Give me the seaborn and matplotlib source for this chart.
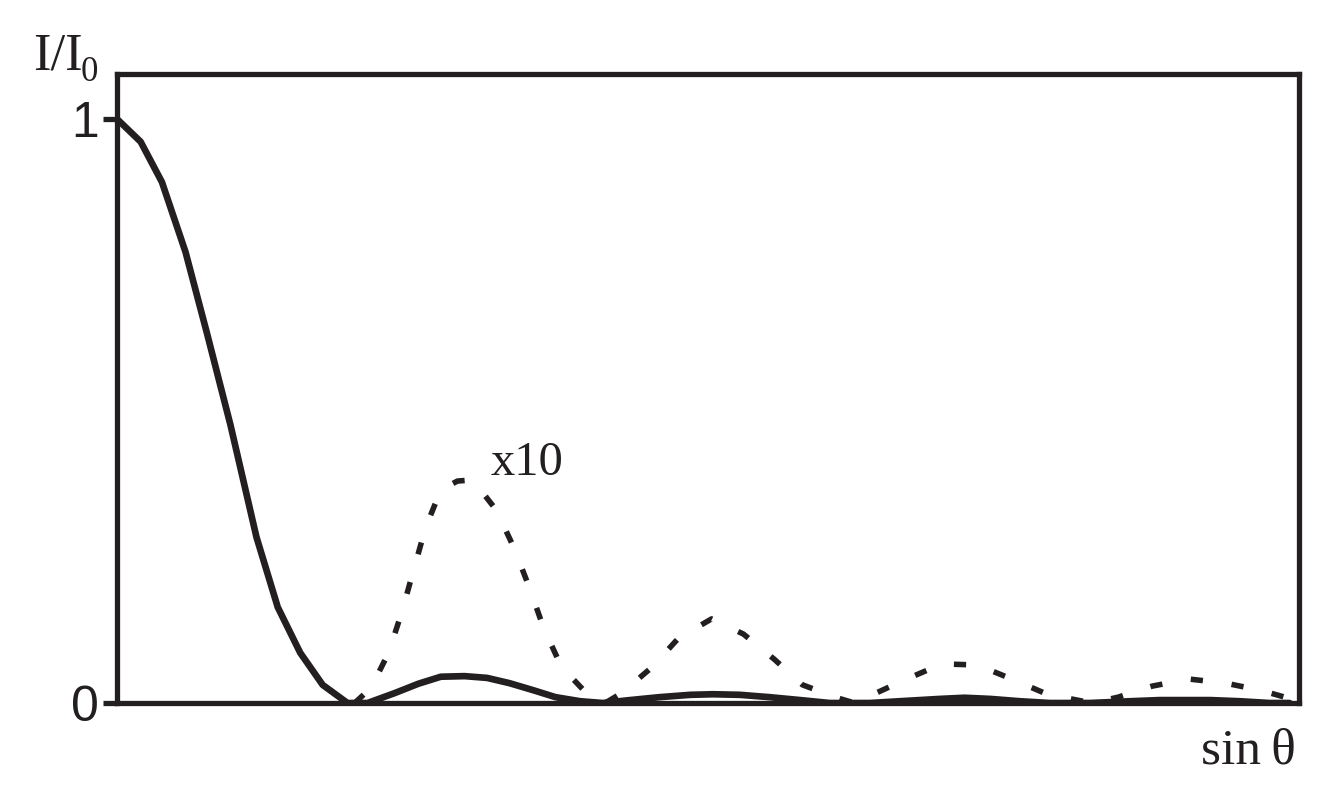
import matplotlib
matplotlib.use("Agg")
import matplotlib.pyplot as plt
import seaborn as sns
import pandas as pd

# solid curve: I/I0 against sin(theta) (x in arbitrary units 0..100)
solid_x = [0.0, 2.0, 3.8, 5.8, 7.6, 9.6, 11.8, 13.6, 15.5, 17.4, 19.5, 21.2,
           23.5, 25.5, 27.4, 29.4, 31.3, 33.2, 35.2, 37.1, 39.2, 41.1, 43.4,
           45.9, 48.5, 50.4, 52.7, 55.2, 57.8, 60.3, 63.7, 66.2, 69.6, 71.7,
           73.9, 76.4, 78.9, 82.3, 85.7, 88.2, 90.4, 92.5, 95.0, 97.5, 99.2]
solid_y = [1.0, 0.961, 0.892, 0.772, 0.634, 0.476, 0.284, 0.164, 0.086, 0.031,
           0.0, 0.0, 0.017, 0.033, 0.045, 0.046, 0.043, 0.034, 0.022, 0.010,
           0.003, 0.0, 0.005, 0.010, 0.014, 0.015, 0.014, 0.010, 0.005, 0.0,
           0.0, 0.003, 0.007, 0.009, 0.007, 0.003, 0.0, 0.0, 0.003, 0.005,
           0.005, 0.005, 0.003, 0.0, 0.0]

# dotted curve: side lobes magnified x10
dotted_x = [20.1, 21.5, 23.0, 24.1, 25.1, 26.1, 27.4, 28.8, 30.1, 32.1, 33.6,
            34.9, 36.1, 37.6, 39.8, 41.3, 42.7, 45.3, 47.5, 50.3, 53.0, 55.6,
            58.0, 60.9, 62.4, 64.0, 66.8, 69.8, 72.8, 75.7, 78.7, 82.5, 84.7,
            87.6, 90.7, 93.8, 96.9, 98.8]
dotted_y = [0.0, 0.026, 0.087, 0.156, 0.228, 0.300, 0.365, 0.380, 0.382, 0.330,
            0.265, 0.197, 0.128, 0.062, 0.015, 0.0, 0.017, 0.062, 0.111, 0.144,
            0.118, 0.075, 0.031, 0.009, 0.0, 0.015, 0.041, 0.067, 0.065, 0.041,
            0.015, 0.0, 0.010, 0.029, 0.041, 0.034, 0.021, 0.010]

y_ticks = [0, 1]
y_tick_labels = ["0", "1"]

solid = pd.DataFrame({"x": solid_x, "y": solid_y})
dotted = pd.DataFrame({"x": dotted_x, "y": dotted_y})

sns.set_style("white")
ink = "#231f20"

fig = plt.figure(figsize=(13.35, 7.97), dpi=100)
ax = fig.add_axes([117 / 1335, 1 - 703 / 797, (1299 - 117) / 1335, (703 - 74) / 797])

sns.lineplot(data=solid, x="x", y="y", ax=ax, color=ink, lw=4.8,
             sort=False, estimator=None)
sns.lineplot(data=dotted, x="x", y="y", ax=ax, color=ink, lw=4.0,
             sort=False, estimator=None, dashes=False)
ax.lines[-1].set_dashes((2.2, 5.2))

ax.set_xlim(0, 100)
ax.set_ylim(0, 1.077)
ax.set_xlabel("")
ax.set_ylabel("")
ax.set_xticks([])
ax.set_yticks(y_ticks)
ax.set_yticklabels(y_tick_labels, fontsize=36, family="Liberation Sans", color=ink)
ax.tick_params(axis="y", direction="out", length=10, width=3.8, color=ink, pad=3, left=True)

for sp in ax.spines.values():
    sp.set_visible(True)
    sp.set_linewidth(3.8)
    sp.set_color(ink)

serif = "Liberation Serif"
fig.text(33 / 1335, 1 - 70 / 797, "I/I", fontsize=38, family=serif, color=ink, va="baseline")
fig.text(81 / 1335, 1 - 81 / 797, "0", fontsize=25, family=serif, color=ink, va="baseline")
ax.text(31.6, (703 - 475) / 584, "x10", fontsize=35, family=serif, color=ink, va="baseline")
fig.text(1296 / 1335, 1 - 763 / 797, "sin\u2009\u03b8", fontsize=37, family=serif,
         color=ink, ha="right", va="baseline")

fig.savefig("out.png", dpi=100)
